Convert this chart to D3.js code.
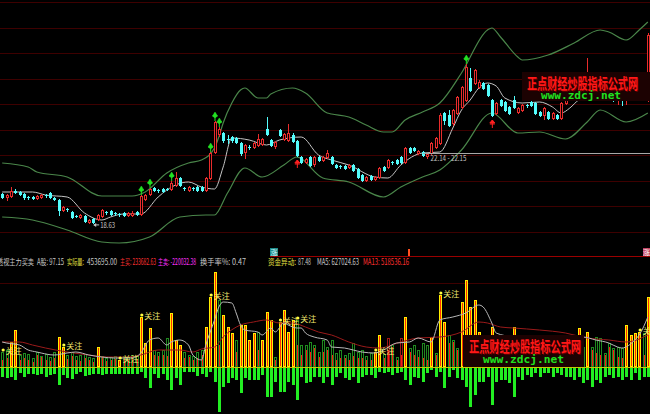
<!DOCTYPE html>
<html><head><meta charset="utf-8">
<script src="https://cdn.jsdelivr.net/npm/d3@7"></script>
<style>html,body{margin:0;padding:0;background:#000;overflow:hidden}</style>
</head><body><svg id="c" width="650" height="414"></svg>
<script>
const N = 150;
const opens = [
20.10,19.95,20.00,20.25,20.20,20.10,19.95,19.95,19.90,19.95,
20.05,20.15,19.90,19.80,19.30,19.35,19.20,19.00,18.95,19.00,
18.70,18.85,18.85,19.00,19.20,19.25,19.15,19.10,19.15,19.05,
19.05,19.20,19.10,19.85,20.10,20.40,20.30,20.35,20.35,20.35,
20.55,20.90,20.40,20.30,20.40,20.45,20.45,20.30,20.90,22.20,
23.10,23.15,22.85,22.95,22.90,22.65,22.20,22.45,22.45,22.55,
22.60,23.35,22.80,22.50,23.30,22.85,22.80,23.05,22.75,21.95,
21.70,21.95,21.60,21.95,21.80,21.95,21.95,21.55,21.50,21.50,
21.45,21.55,21.35,21.05,20.80,21.00,20.85,20.95,21.45,21.45,
21.70,21.80,21.95,21.70,22.40,22.40,22.15,22.20,22.00,22.15,
22.45,22.65,24.15,24.05,23.65,24.15,24.45,24.80,25.90,25.65,
25.45,25.65,25.55,24.80,24.15,24.80,24.70,24.45,24.80,24.20,
24.30,24.55,24.70,24.65,24.20,24.05,24.20,23.90,24.05,23.90,
24.65,24.90,25.30,25.05,25.30,25.70,26.05,25.55,25.05,25.30,
24.90,25.15,24.80,25.05,24.80,25.05,24.90,25.20,25.50,24.80];
const closes = [
19.95,20.05,20.25,20.20,20.10,19.95,19.93,19.90,20.00,20.05,
20.03,19.95,19.85,19.30,19.45,19.33,18.95,18.98,19.05,18.75,
18.80,18.70,19.05,19.30,19.18,19.10,19.13,19.08,19.05,19.15,
19.15,19.10,20.00,20.05,20.35,20.30,20.28,20.25,20.33,20.65,
20.90,20.55,20.38,20.45,20.38,20.30,20.30,20.90,22.15,23.70,
23.35,22.80,22.83,22.80,22.70,22.15,22.55,22.43,22.65,22.85,
22.85,23.10,22.55,22.70,23.05,23.10,23.15,22.75,22.05,21.70,
21.85,21.55,21.95,21.80,21.95,22.15,21.65,21.45,21.48,21.40,
21.55,21.30,20.95,20.80,20.95,20.85,20.95,21.40,21.30,21.80,
21.68,21.65,21.70,22.40,22.20,22.30,22.25,22.05,22.10,22.65,
22.90,24.05,23.80,23.55,24.30,24.95,25.45,26.45,25.30,26.30,
25.70,25.40,25.05,24.05,24.65,24.55,24.30,24.15,24.45,24.40,
24.55,24.53,24.55,24.15,24.05,24.40,23.90,24.15,23.90,24.65,
24.90,25.20,25.05,25.40,25.70,26.15,25.55,25.20,25.30,24.95,
25.15,24.90,25.05,24.85,25.00,24.90,25.30,25.55,25.53,28.05];
const highs = [
20.15,20.10,20.45,20.35,20.25,20.15,20.00,20.00,20.05,20.10,
20.10,20.20,19.95,19.85,19.50,19.40,19.25,19.05,19.10,19.05,
18.85,18.90,19.10,19.35,19.25,19.30,19.20,19.15,19.20,19.20,
19.25,19.25,20.05,20.10,20.40,20.45,20.35,20.40,20.40,20.75,
21.20,20.95,20.45,20.50,20.45,20.50,20.50,20.95,22.20,23.75,
23.45,23.20,23.05,23.00,22.95,22.70,22.60,22.55,22.70,23.10,
22.90,23.95,22.85,22.75,23.35,23.15,23.60,23.15,22.80,22.00,
21.90,22.00,22.00,22.00,22.00,22.30,22.00,21.60,21.55,21.55,
21.60,21.60,21.40,21.10,21.00,21.05,21.00,21.45,21.50,21.85,
21.75,21.85,22.00,22.45,22.45,22.45,22.30,22.25,22.15,22.70,
22.95,24.15,24.20,24.30,24.35,25.00,25.50,26.60,26.40,26.35,
25.80,25.70,25.60,24.85,24.70,24.85,24.75,24.50,25.00,24.45,
24.60,24.60,24.75,24.70,24.25,24.45,24.25,24.20,24.10,24.70,
25.00,25.30,25.40,25.50,25.80,26.90,26.10,25.60,25.40,25.40,
25.20,25.20,25.10,25.15,25.10,25.15,25.40,25.65,25.80,28.15];
const lows = [
19.90,19.80,19.95,20.15,20.05,19.85,19.85,19.85,19.85,19.90,
19.95,19.90,19.80,19.05,19.25,19.25,18.90,18.95,18.90,18.70,
18.65,18.63,18.80,18.95,19.10,19.05,19.05,19.00,19.00,19.00,
19.00,19.05,19.05,19.80,20.05,20.25,20.20,20.20,20.30,20.30,
20.50,20.50,20.30,20.25,20.30,20.25,20.25,20.25,20.85,22.15,
23.00,22.70,22.65,22.70,22.65,22.05,21.90,22.35,22.40,22.50,
22.55,23.05,22.50,22.40,23.00,22.80,22.75,22.70,22.00,21.65,
21.65,21.50,21.50,21.75,21.75,21.90,21.60,21.40,21.40,21.35,
21.40,21.25,20.90,20.75,20.75,20.80,20.80,20.90,21.25,21.40,
21.60,21.60,21.65,21.65,22.15,22.25,22.10,22.00,21.90,22.10,
22.40,22.60,23.60,23.50,23.55,24.10,24.40,24.75,25.25,25.60,
25.40,25.35,25.00,24.00,24.10,24.50,24.25,24.10,24.40,24.15,
24.25,24.45,24.50,24.10,24.00,23.85,23.85,23.85,23.85,23.85,
24.60,24.85,25.00,25.00,25.20,25.60,25.00,24.90,24.90,24.80,
24.80,24.75,24.60,24.55,24.60,24.80,24.85,25.15,25.30,24.75];

// Bollinger style bands (read at sample bars)
const upperIdx = [0,6,8,15,23,30,33,38,43,46,49,50,51,53,55,56,59,61,62,67,70,75,76,80,84,88,90,93,97,101,106,112,113,115,119,120,126,132,138,140,144,147,149];
const upperVal = [21.65,21.45,21.2,20.95,20.0,20.0,20.2,21.15,21.65,21.8,22.4,22.95,23.65,24.65,25.3,25.4,24.9,24.9,25.1,25.4,25.15,24.15,24.1,23.95,23.55,23.2,23.2,23.8,24.2,24.65,26.15,28.3,28.4,27.95,26.95,26.8,27.05,27.65,28.3,28.2,27.8,28.3,28.7];
const lowerIdx = [0,7,15,23,27,34,41,47,49,52,56,60,65,68,74,80,88,92,97,101,106,113,119,124,130,135,138,144,149];
const lowerVal = [18.95,18.8,18.3,17.7,17.65,17.95,18.95,19.05,19.05,20.15,21.4,20.95,21.55,21.95,20.9,20.7,19.95,20.45,20.95,21.3,22.3,24.15,23.15,23.2,22.85,23.7,24.3,23.7,24.15];
const midIdx = [0,7,10,15,19,23,25,28,32,36,38,43,46,49,51,53,57,61,64,69,73,76,80,86,89,92,97,101,104,106,108,110,112,114,116,120,124,127,129,131,133,138,144,149];
const midVal = [20.2,20.2,20.05,19.95,19.15,18.8,18.95,19.1,19.1,19.95,20.3,20.7,20.45,20.35,21.45,22.9,22.8,22.55,22.8,22.95,22.05,21.8,21.55,20.95,20.9,21.55,22.15,22.2,23.4,24.3,24.8,25.4,25.65,25.5,24.9,24.65,24.7,24.45,24.15,24.4,24.8,25.2,25.4,25.6];

const buySignalIdx = [32,34,39,48,49,50,107];
const sellSignalIdx = [68,113];
const lowLabel = {idx:21, price:18.63, text:"18.63"};
const rangeLine = {from:97, price:22.15, text:"22.14 - 22.15"};

// lower panel
const buyVol = [
28,36,0,0,28,36,28,20,48,40, 28,24,36,0,0,32,44,28,24,36,
28,20,0,44,24,28,32,0,36,28, 40,32,0,0,0,48,44,48,44,0,
0,0,36,40,28,36,48,0,0,0, 88,0,0,0,60,0,0,0,0,68,
0,0,0,28,0,0,0,0,88,48, 68,60,76,40,60,68,48,28,36,36,
28,44,36,36,28,28,0,0,36,68, 80,28,48,0,60,48,40,36,28,0,
48,0,0,96,100,68,0,0,0,0, 0,60,50,0,60,50,40,50,0,40,
50,40,40,30,40,30,30,40,30,40, 50,40,40,0,50,0,68,56,48,48,
80,68,40,36,0,0,0,0,48,0];
const totVol = [
60,68,0,0,48,56,52,36,60,44, 52,40,60,0,0,48,60,44,48,52,
40,36,0,44,36,40,44,0,44,40, 48,44,0,0,0,68,60,68,116,0,
0,0,60,48,44,60,68,0,0,0, 268,0,0,0,108,0,0,0,0,140,
0,0,0,40,0,0,0,0,188,88, 88,100,88,60,108,80,108,56,68,48,
56,96,60,68,44,56,0,0,52,116, 88,40,116,0,76,88,68,96,88,0,
56,0,0,128,108,76,0,0,0,0, 0,90,80,0,90,70,80,70,0,70,
80,60,70,60,60,50,60,60,50,70, 80,60,70,0,80,0,80,120,116,56,
96,76,80,76,0,0,0,0,136,0];
const alertVol = [
0,0,100,148,0,0,0,0,0,0, 0,0,0,120,80,0,0,0,0,0,
0,0,80,0,0,0,0,28,0,0, 0,0,200,96,156,0,0,0,0,216,
108,88,0,0,0,0,0,160,280,380, 0,208,160,136,0,168,168,108,136,0,
108,220,188,0,180,228,140,188,0,0, 0,0,0,0,0,0,0,0,0,0,
0,0,0,0,0,0,60,128,0,0, 0,0,0,200,0,0,0,0,0,120,
0,288,180,0,0,0,260,348,240,268, 140,0,0,160,0,0,0,0,160,0,
0,0,0,0,0,0,0,0,0,0, 0,0,0,156,0,140,0,0,0,0,
0,0,0,0,168,128,136,140,0,280];
const sellVol = [
-40,-44,-40,-52,-24,-40,-28,-28,-32,-28, -40,-32,-28,-72,-32,-44,-48,-28,-20,-36,
-32,-28,-28,-32,-28,-28,-28,-28,-28,-28, -28,-28,-20,-44,-84,-28,-44,-28,-52,-92,
-44,-72,-20,-20,-20,-36,-28,-40,-20,-60, -180,-80,-64,-44,-52,-104,-44,-52,-52,-52,
-32,-120,-120,-60,-100,-100,-60,-72,-132,-40, -64,-60,-40,-40,-64,-40,-72,-40,-24,-44,
-52,-40,-64,-40,-32,-32,-44,-20,-24,-20, -32,-24,-20,-52,-72,-40,-44,-60,-24,-12,
-40,-20,-84,-40,-12,-44,-52,-80,-160,-112, -60,-60,-40,-152,-60,-52,-52,-64,-120,-40,
-52,-32,-40,-24,-40,-24,-24,-40,-24,-32, -40,-40,-52,-40,-64,-52,-80,-52,-64,-40,
-32,-44,-40,-52,-40,-52,-24,-52,-40,-40];
const redOutlineIdx = [89,92];
const focusIdx = [0,14,27,32,48,64,68,86,101,147];
const ma5Idx = [0,1,4,6,8,9,12,15,17,20,23,26,30,32,34,36,38,39,41,43,44,46,47,49,50,51,53,54,55,56,59,60,62,63,65,66,68,69,70,72,75,76,79,81,83,86,88,91,94,96,99,101,104,107,110,111,113,114,118,122,126,130,134,137,140,142,143,146,147,149];
const ma5Val = [100,96,88,68,60,56,48,56,60,48,40,36,36,56,108,116,88,100,108,88,48,28,88,188,240,260,256,216,168,148,140,128,156,140,176,168,156,156,136,120,108,80,76,68,60,56,68,96,100,116,100,188,200,216,248,240,176,136,120,110,100,110,120,108,96,80,76,108,128,200];
const ma13Idx = [0,4,7,10,15,20,24,29,32,36,41,44,46,49,51,55,58,61,64,67,70,73,76,80,84,87,92,96,101,106,110,112,115,118,124,130,135,140,144,149];
const ma13Val = [100,100,88,76,60,48,40,40,48,68,68,60,72,80,120,168,180,188,176,176,160,140,128,100,80,76,100,116,120,140,180,176,160,156,148,136,116,108,100,128];

const infoItems = [
  {t:"透视主力买卖", c:"#c8c8c8"}, {t:"A股: 97.15", c:"#c8c8c8"},
  {t:"实际量:", c:"#e8e040"}, {t:"453695.00", c:"#c8c8c8"},
  {t:"主买: 233682.63", c:"#ff3030"}, {t:"主卖: -220032.38", c:"#ff30ff"},
  {t:"换手率%: 0.47", c:"#c8c8c8"}, {t:"资金异动:", c:"#e8e040"},
  {t:"87.48", c:"#c8c8c8"}, {t:"MA5: 627024.63", c:"#c8c8c8"},
  {t:"MA13: 518536.16", c:"#ff3030"}];
const infoPos = [[-3,37],[37,27],[67,17],[87,30],[120,36],[158,38],[200,46],[268,28],[298,13],[317,42],[363,46]];
const watermarkCn = "正点财经炒股指标公式网";
const watermarkEn = "www.zdcj.net";

// ---------- drawing ----------
const svg = d3.select("#c");
svg.append("rect").attr("width",650).attr("height",414).attr("fill","#000");
const FONT = "'Noto Sans CJK SC','Noto Sans',sans-serif";

const xp = d3.scalePoint().domain(d3.range(N)).range([0,650]).padding(0.5);
const px = i => Math.round(xp(i));
const y = d3.scaleLinear().domain([17.3,29.8]).range([250,0]);
const yv = d3.scaleLinear().domain([-188,444]).range([414,256]);

// grid
const grid = svg.append("g").attr("shape-rendering","crispEdges");
[2,28,53,79,104,130,155,181,206,232,283].forEach(g=>{
  grid.append("line").attr("x1",0).attr("x2",650).attr("y1",g+0.5).attr("y2",g+0.5).attr("stroke","#3e0000");
});
grid.append("line").attr("x1",270).attr("x2",650).attr("y1",256.5).attr("y2",256.5).attr("stroke","#9a0000");

// bands
const lineGen = (idx,vals,ys)=> d3.line().x((d,k)=>xp(idx[k])).y(d=>ys(d)).curve(d3.curveMonotoneX)(vals);
svg.append("path").attr("d",lineGen(upperIdx,upperVal,y)).attr("fill","none").attr("stroke","#4a864a").attr("stroke-width",1.2);
svg.append("path").attr("d",lineGen(lowerIdx,lowerVal,y)).attr("fill","none").attr("stroke","#4a864a").attr("stroke-width",1.2);
svg.append("path").attr("d",lineGen(midIdx,midVal,y)).attr("fill","none").attr("stroke","#c4c4c4").attr("stroke-width",1);

// candles
const RED = "#e82c2c", CYAN = "#54fcfc";
const cg = svg.append("g").attr("shape-rendering","crispEdges");
for (let i=0;i<N;i++){
  const o=opens[i], c=closes[i], x=px(i);
  const up = c>=o;
  const col = up?RED:CYAN;
  cg.append("line").attr("x1",x+0.5).attr("x2",x+0.5).attr("y1",Math.round(y(highs[i]))).attr("y2",Math.round(y(lows[i]))+1).attr("stroke",col);
  const yt = Math.round(y(Math.max(o,c))), yb = Math.round(y(Math.min(o,c)));
  const h = Math.max(1, yb-yt);
  if (Math.abs(o-c) < 0.04){
    cg.append("line").attr("x1",x-1).attr("x2",x+2).attr("y1",yt+0.5).attr("y2",yt+0.5).attr("stroke",col);
  } else if (up){
    cg.append("rect").attr("x",x-0.5).attr("y",yt+0.5).attr("width",2).attr("height",h).attr("fill","#000").attr("stroke",col);
  } else {
    cg.append("rect").attr("x",x-1).attr("y",yt).attr("width",3).attr("height",h+1).attr("fill",col);
  }
}
// signals
buySignalIdx.forEach(i=>{
  const x=xp(i)+0.5, t=y(highs[i])-1;
  const g=svg.append("g").attr("fill","#22e022").attr("stroke","#22e022");
  g.append("line").attr("x1",x).attr("x2",x).attr("y1",t-7).attr("y2",t+1).attr("stroke-width",1);
  g.append("path").attr("d",`M${x},${t-8}L${x+2.5},${t-4}L${x},${t-2}L${x-2.5},${t-4}Z`).attr("stroke-width",0.5);
  g.append("line").attr("x1",x-2.5).attr("x2",x+2.5).attr("y1",t-4).attr("y2",t-4).attr("stroke-width",1);
});
sellSignalIdx.forEach(i=>{
  const x=xp(i)+0.5, b=y(lows[i])+4;
  const g=svg.append("g").attr("fill","#ff2020").attr("stroke","#ff2020");
  g.append("line").attr("x1",x).attr("x2",x).attr("y1",b).attr("y2",b+8);
  g.append("path").attr("d",`M${x},${b}L${x+2.5},${b+3}L${x-2.5},${b+3}Z`);
  g.append("line").attr("x1",x-2.5).attr("x2",x+2.5).attr("y1",b+4).attr("y2",b+4);
});
// price labels
{
  const lx = xp(lowLabel.idx), ly = y(lowLabel.price);
  svg.append("line").attr("x1",lx+1).attr("x2",lx+6).attr("y1",ly+1.5).attr("y2",ly+1.5).attr("stroke","#c0c0c0");
  svg.append("path").attr("d",`M${lx},${ly+1.5}L${lx+3},${ly-0.5}L${lx+3},${ly+3.5}Z`).attr("fill","#c0c0c0");
  svg.append("text").attr("x",lx+7).attr("y",ly+4.5).attr("font-size",8).attr("font-family",FONT).attr("fill","#c8c8c8").attr("textLength",15).attr("lengthAdjust","spacingAndGlyphs").text(lowLabel.text);
  const ry = Math.round(y(rangeLine.price))+0.5;
  svg.append("line").attr("x1",xp(rangeLine.from)).attr("x2",650).attr("y1",ry).attr("y2",ry).attr("stroke","#a8a8a8").attr("shape-rendering","crispEdges");
  svg.append("text").attr("x",xp(rangeLine.from)+8).attr("y",ry+7.5).attr("font-size",8).attr("font-family",FONT).attr("fill","#c0c0c0").attr("textLength",36).attr("lengthAdjust","spacingAndGlyphs").text(rangeLine.text);
}

// lower panel bars
const bg = svg.append("g").attr("shape-rendering","crispEdges");
const y0 = Math.round(yv(0));
for (let i=0;i<N;i++){
  const x=px(i);
  if (sellVol[i]<0){
    const yb=Math.round(yv(sellVol[i]));
    bg.append("rect").attr("x",x-1).attr("y",y0).attr("width",3).attr("height",yb-y0).attr("fill","#22ee22");
  }
  if (buyVol[i]>0){
    const yt=Math.round(yv(buyVol[i]));
    bg.append("rect").attr("x",x-1).attr("y",yt).attr("width",3).attr("height",y0-yt).attr("fill","#ff1414");
  }
  if (totVol[i]>0){
    const yt=Math.round(yv(totVol[i]));
    bg.append("rect").attr("x",x-0.5).attr("y",yt+0.5).attr("width",2).attr("height",y0-yt-1).attr("fill","none")
      .attr("stroke", redOutlineIdx.includes(i)?"#a01818":"#1f8a1f");
  }
  if (alertVol[i]>0){
    const yt=Math.round(yv(alertVol[i]));
    bg.append("rect").attr("x",x-0.5).attr("y",yt+0.5).attr("width",2).attr("height",y0-yt-1).attr("fill","#ff3000").attr("stroke","#ffee00");
  }
}
bg.append("line").attr("x1",0).attr("x2",650).attr("y1",y0+0.5).attr("y2",y0+0.5).attr("stroke","#c8c800");

svg.append("path").attr("d",lineGen(ma13Idx,ma13Val,yv)).attr("fill","none").attr("stroke","#9a1a1a").attr("stroke-width",1);
svg.append("path").attr("d",lineGen(ma5Idx,ma5Val,yv)).attr("fill","none").attr("stroke","#b8b8b8").attr("stroke-width",1);

focusIdx.forEach(i=>{
  const top = yv(Math.max(buyVol[i],totVol[i],alertVol[i]));
  const x = xp(i);
  svg.append("circle").attr("cx",x+1).attr("cy",top-2).attr("r",1.6).attr("fill","#ffff40");
  svg.append("text").attr("x",x+3.5).attr("y",top+1.5).attr("font-size",8).attr("font-family",FONT).attr("fill","#f0e870").text("关注");
});

// markers on separator
svg.append("rect").attr("x",270).attr("y",248).attr("width",8).attr("height",8).attr("fill","#1a8a8a");
svg.append("text").attr("x",274).attr("y",255).attr("text-anchor","middle").attr("font-size",7).attr("font-family",FONT).attr("fill","#e0ffff").text("涨");
svg.append("rect").attr("x",643).attr("y",248).attr("width",7).attr("height",8).attr("fill","#c04060");
svg.append("text").attr("x",646.5).attr("y",255).attr("text-anchor","middle").attr("font-size",7).attr("font-family",FONT).attr("fill","#fff").text("涨");
svg.append("rect").attr("x",408).attr("y",249).attr("width",2).attr("height",7).attr("fill","#ff5020");

// info row
const info = svg.append("g").attr("font-size",8.5).attr("font-family",FONT);
infoItems.forEach((d,k)=>{
  info.append("text").attr("x",infoPos[k][0]).attr("y",265).attr("fill",d.c)
    .attr("textLength",infoPos[k][1]).attr("lengthAdjust","spacingAndGlyphs").text(d.t);
});

// watermarks
function watermark(x,yTop,w,h,cnY,cnX,cnW,enY,enX,enW){
  svg.append("rect").attr("x",x).attr("y",yTop).attr("width",w).attr("height",h).attr("fill","#1c0202");
  svg.append("text").attr("x",cnX+0.8).attr("y",cnY+0.8).attr("font-size",15).attr("font-weight","bold").attr("font-family",FONT)
    .attr("fill","#600000").attr("textLength",cnW).attr("lengthAdjust","spacingAndGlyphs").text(watermarkCn);
  svg.append("text").attr("x",cnX).attr("y",cnY).attr("font-size",15).attr("font-weight","bold").attr("font-family",FONT)
    .attr("fill","#ff1818").attr("textLength",cnW).attr("lengthAdjust","spacingAndGlyphs").text(watermarkCn);
  svg.append("text").attr("x",enX).attr("y",enY).attr("font-size",11).attr("font-weight","bold").attr("font-family","'DejaVu Sans Mono',monospace")
    .attr("fill","#20e020").attr("textLength",enW).attr("lengthAdjust","spacingAndGlyphs").text(watermarkEn);
}
watermark(522,72,128,29, 89,527,111, 99,541,80);
watermark(463,335,121,32, 352,469,112, 363,483,81);
</script></body></html>
